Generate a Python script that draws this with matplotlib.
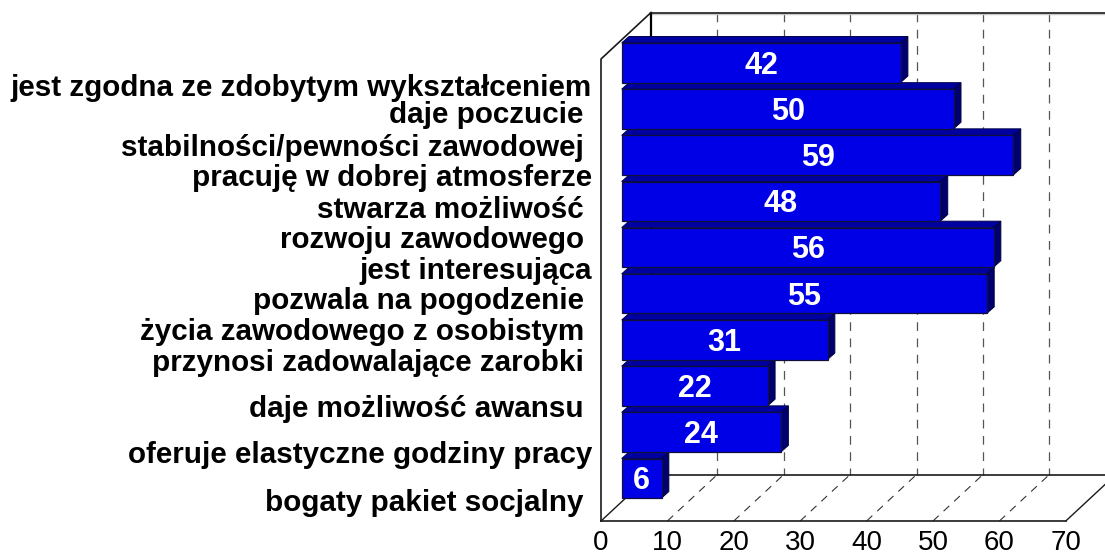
import matplotlib
matplotlib.use("Agg")
import matplotlib.pyplot as plt
from matplotlib.patches import Polygon

plt.rcParams['font.family'] = ['Liberation Sans', 'DejaVu Sans']

# ---- data ----
categories = [
    "jest zgodna ze zdobytym wykształceniem",
    "daje poczucie \nstabilności/pewności zawodowej ",
    "pracuję w dobrej atmosferze",
    "stwarza możliwość \nrozwoju zawodowego ",
    "jest interesująca",
    "pozwala na pogodzenie \nżycia zawodowego z osobistym ",
    "przynosi zadowalające zarobki ",
    "daje możliwość awansu ",
    "oferuje elastyczne godziny pracy",
    "bogaty pakiet socjalny ",
]
values = [42, 50, 59, 48, 56, 55, 31, 22, 24, 6]
x_ticks = [0, 10, 20, 30, 40, 50, 60, 70]

# ---- layout (pixels) ----
W, H = 1105, 556
X0 = 601.0; PX_PER_UNIT = 6.64
ROW0 = 62.75; ROW_STEP = 46.17
FRONT_TOP = 59.0; FRONT_FLOOR = 521.0
DEPTH_X = 50.0; DEPTH_Y = 46.5
BAR_SHIFT = 20.7; BAR_H = 39.5; BAR_DX = 7.3; BAR_DY = 6.5
label_y = [88, 115, 148, 178, 210, 240, 271, 301, 332, 363, 409, 455, 503]
label_right = 592

fig = plt.figure(figsize=(W / 100, H / 100), dpi=100)
ax = fig.add_axes([0, 0, 1, 1])
ax.set_xlim(-X0 / PX_PER_UNIT, (W - X0) / PX_PER_UNIT)
ax.set_ylim((H - ROW0) / ROW_STEP, -ROW0 / ROW_STEP)
ax.axis("off")

ux = 1 / PX_PER_UNIT
uy = 1 / ROW_STEP
dx, dy = DEPTH_X * ux, DEPTH_Y * uy
ytop = (FRONT_TOP - ROW0) * uy
yfloor = (FRONT_FLOOR - ROW0) * uy
xmax = x_ticks[-1]
ink = "#1a1a1a"

# walls and floor
ax.plot([0, 0, dx, dx], [yfloor, ytop, ytop - dy, yfloor - dy], color=ink, lw=1.2, zorder=2)
ax.plot([dx, dx], [ytop - dy, yfloor - dy], color="black", lw=1.6, zorder=2)
ax.plot([dx, xmax + dx + 1], [ytop - dy, ytop - dy], color=ink, lw=1.2, zorder=2)
ax.plot([dx, xmax + dx + 1], [ytop - dy + 1.5 * uy] * 2, color="#c8c8c8", lw=1.0, zorder=1.5)
ax.plot([dx, xmax + dx + 1], [yfloor - dy, yfloor - dy], color=ink, lw=1.2, zorder=2)
ax.plot([0, xmax], [yfloor, yfloor], color=ink, lw=1.2, zorder=2)
ax.plot([0, dx], [yfloor, yfloor - dy], color=ink, lw=1.0, zorder=2)
ax.plot([xmax, xmax + dx], [yfloor, yfloor - dy], color=ink, lw=1.0, zorder=2)

# gridlines
for t in x_ticks[1:-1]:
    ax.plot([t + dx, t + dx], [ytop - dy, yfloor - dy], color="#555555", lw=0.9,
            dashes=(7, 6), zorder=1)
    ax.plot([t, t + dx], [yfloor, yfloor - dy], color="#333333", lw=0.8,
            dashes=(7, 6), zorder=1)

# bars
shift = BAR_SHIFT * ux
bdx, bdy = BAR_DX * ux, BAR_DY * uy
bh = BAR_H * uy
rows = list(range(len(values)))
ax.barh(rows, values, left=shift, height=bh, color="#0000e6",
        edgecolor="#10103a", linewidth=0.9, zorder=4)
for r, v in zip(rows, values):
    yt, yb = r - bh / 2, r + bh / 2
    xr = shift + v
    ax.add_patch(Polygon([(shift, yt), (shift + bdx, yt - bdy), (xr + bdx, yt - bdy), (xr, yt)],
                         closed=True, facecolor="#0000a0", edgecolor="#000050", lw=0.7, zorder=3))
    ax.add_patch(Polygon([(xr, yt), (xr + bdx, yt - bdy), (xr + bdx, yb - bdy), (xr, yb)],
                         closed=True, facecolor="#00006e", edgecolor="#000040", lw=0.7, zorder=3))
    ax.text(shift + v / 2, r + 3 * uy, str(v), color="white", fontsize=22, fontweight="bold",
            ha="center", va="center", zorder=5)

# x tick labels
for t in x_ticks:
    ax.text(t, (549.5 - ROW0) * uy, str(t), fontsize=20, ha="center", va="baseline", color="black")

# category labels
lines = [ln for c in categories for ln in c.split("\n")]
for ln, py in zip(lines, label_y):
    ax.text(label_right / W, 1 - py / H, ln, transform=fig.transFigure, fontsize=21.3,
            fontweight="bold", ha="right", va="center", color="black")

fig.savefig("out.png", dpi=100)
